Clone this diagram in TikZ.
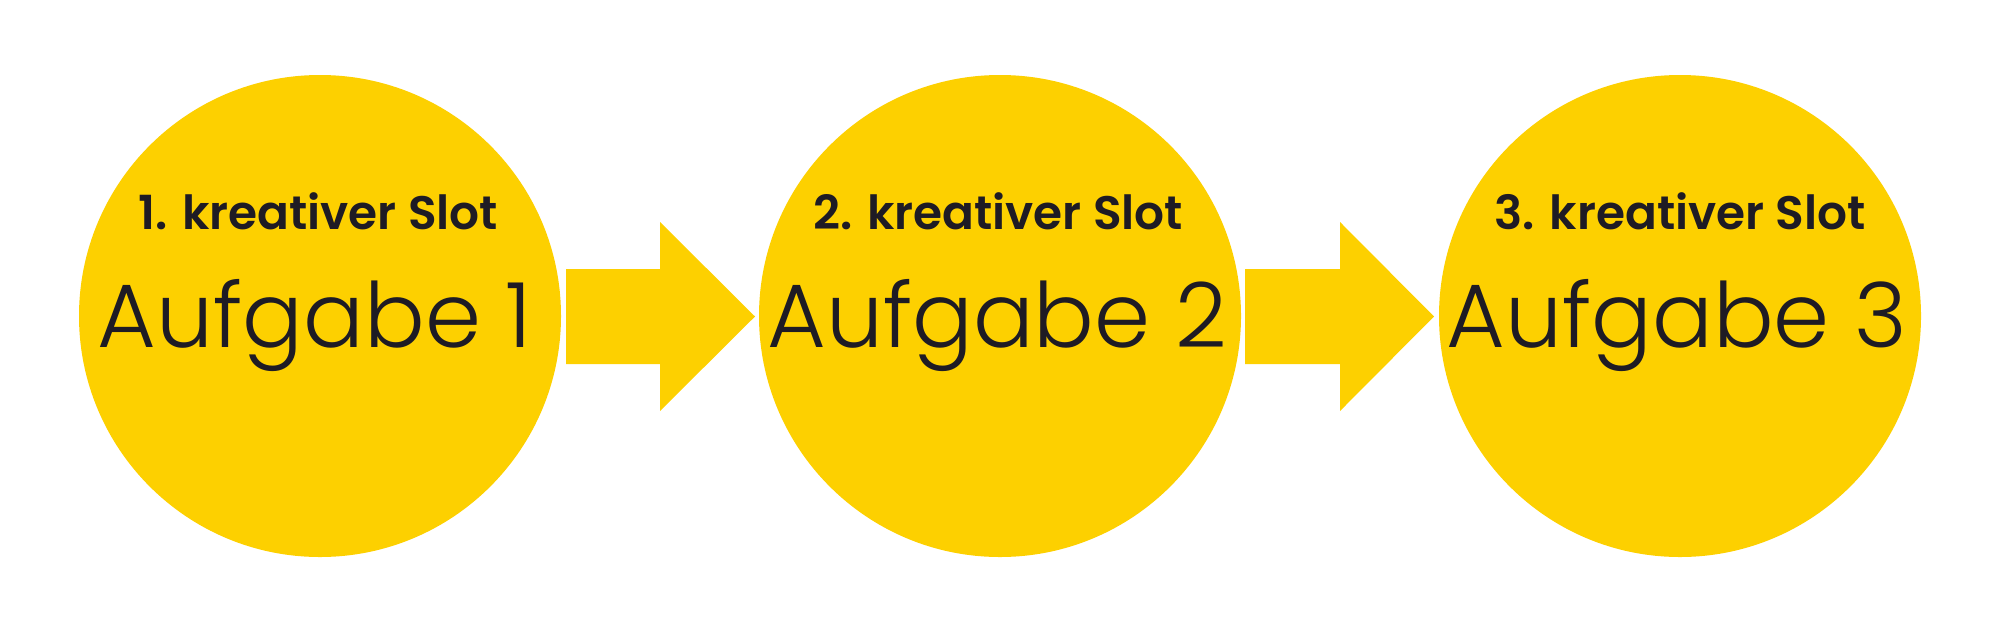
\documentclass[tikz,border=0pt]{standalone}
\usepackage{fontspec}
\setmainfont{Poppins}
\newfontfamily\lightfont{Poppins Light}
\newfontfamily\mediumfont{Poppins SemiBold}
\definecolor{slotyellow}{RGB}{253,208,0}
\definecolor{slottext}{RGB}{30,27,36}
\begin{document}
\begin{tikzpicture}[x=0.5pt,y=-0.5pt,
  slotcircle/.style={circle,fill=slotyellow,draw=none,minimum size=241pt,inner sep=0pt},
  slothead/.style={anchor=base,text=slottext,font=\fontsize{23.5}{26}\selectfont\mediumfont,inner sep=0pt},
  slottask/.style={anchor=base,text=slottext,font=\fontsize{45}{50}\selectfont\lightfont,inner sep=0pt},
  blockarrow/.style={fill=slotyellow,draw=none}]
\useasboundingbox (0,0) rectangle (2000,632);
\node[slotcircle] (c1) at (320,316) {};
\node[slotcircle] (c2) at (1000,316) {};
\node[slotcircle] (c3) at (1680,316) {};
\node[slothead] (h1) at (318,229) {1. kreativer Slot};
\node[slothead] (h2) at (998,229) {2. kreativer Slot};
\node[slothead] (h3) at (1680,229) {3. kreativer Slot};
\node[slottask] (t1) at (315,347) {Aufgabe 1};
\node[slottask] (t2) at (997,347) {Aufgabe 2};
\node[slottask] (t3) at (1677,347) {Aufgabe 3};
\coordinate (a1) at (566,316.5);
\coordinate (a2) at (1245,316.5);
\fill[blockarrow] (a1) ++(0,-47.5) -- ++(94,0) -- ++(0,-47) -- ++(95,94.5) -- ++(-95,94.5) -- ++(0,-47) -- ++(-94,0) -- cycle;
\fill[blockarrow] (a2) ++(0,-47.5) -- ++(95,0) -- ++(0,-47) -- ++(94,94.5) -- ++(-94,94.5) -- ++(0,-47) -- ++(-95,0) -- cycle;
\end{tikzpicture}
\end{document}
